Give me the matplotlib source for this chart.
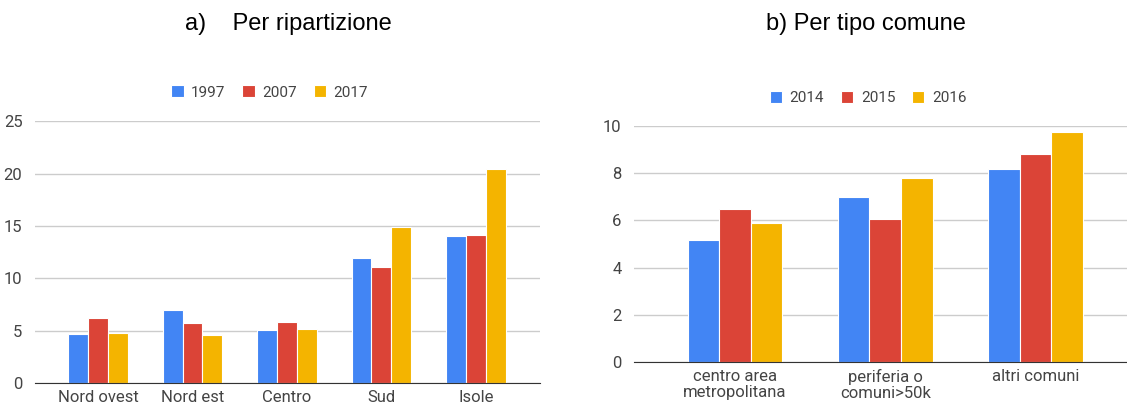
import numpy as np
import matplotlib.pyplot as plt

plt.rcParams['font.family'] = ['Roboto', 'DejaVu Sans']

# data
regions = ["Nord ovest", "Nord est", "Centro", "Sud", "Isole"]
years_a = ["1997", "2007", "2017"]
v1997 = [4.7, 6.95, 5.1, 11.95, 14.0]
v2007 = [6.2, 5.75, 5.85, 11.05, 14.1]
v2017 = [4.8, 4.55, 5.2, 14.9, 20.45]

comuni = ["centro area\nmetropolitana", "periferia o\ncomuni>50k", "altri comuni"]
years_b = ["2014", "2015", "2016"]
v2014 = [5.15, 7.0, 8.2]
v2015 = [6.5, 6.05, 8.8]
v2016 = [5.9, 7.8, 9.75]

colors = ['#4285f4', '#db4437', '#f4b400']
grid_c = '#cccccc'
txt_c = '#444444'

fig = plt.figure(figsize=(11.27, 4.04), dpi=100)
ax1 = fig.add_axes([0.031, 0.052, 0.448, 0.648])
ax2 = fig.add_axes([0.5625, 0.104, 0.4375, 0.584])


def draw(ax, cats, series, labels, ymax, step, xlim, bw, leg_x):
    x = np.arange(len(cats))
    for i, (vals, lab) in enumerate(zip(series, labels)):
        ax.bar(x + (i - 1) * bw, vals, bw, color=colors[i], label=lab,
               edgecolor='white', linewidth=0.8, zorder=3)
    ax.set_ylim(0, ymax)
    ax.set_xlim(*xlim)
    ax.set_yticks(np.arange(0, ymax + 0.1, step))
    ax.yaxis.grid(True, color=grid_c, linewidth=1, zorder=0)
    for s in ['top', 'right', 'left']:
        ax.spines[s].set_visible(False)
    ax.spines['bottom'].set_color('#333333')
    ax.spines['bottom'].set_zorder(4)
    ax.tick_params(axis='both', length=0, colors=txt_c, labelsize=12)
    ax.tick_params(axis='y', pad=9)
    ax.tick_params(axis='x', pad=5)
    ax.set_xticks(x)
    ax.set_xticklabels(cats, linespacing=1.05)
    ax.legend(loc='lower center', bbox_to_anchor=(leg_x, 1.03), ncol=3,
              frameon=False, fontsize=11, labelcolor=txt_c,
              handlelength=0.8, handleheight=0.8, handletextpad=0.5,
              columnspacing=1.1)


draw(ax1, regions, [v1997, v2007, v2017], years_a, 25, 5, (-0.667, 4.677), 0.21, 0.465)
draw(ax2, comuni, [v2014, v2015, v2016], years_b, 10, 2, (-0.673, 2.61), 0.21, 0.475)

fig.text(0.2555, 0.94, "a)    Per ripartizione", ha='center', va='center',
         fontsize=17, family=['Liberation Sans', 'DejaVu Sans'])
fig.text(0.768, 0.94, "b) Per tipo comune", ha='center', va='center',
         fontsize=17, family=['Liberation Sans', 'DejaVu Sans'])

plt.savefig('out.png', dpi=100)
